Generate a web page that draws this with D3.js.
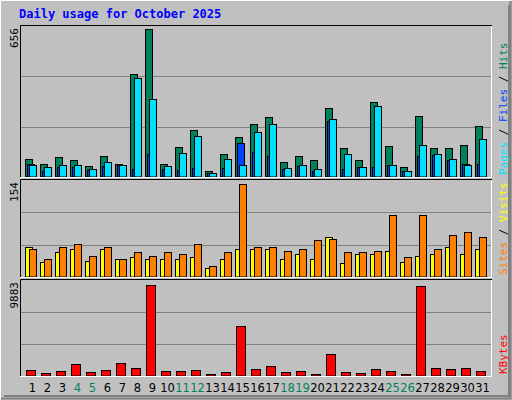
<!DOCTYPE html>
<html><head><meta charset="utf-8">
<script src="https://cdn.jsdelivr.net/npm/d3@7"></script>
<style>body{margin:0;background:#fff}</style></head>
<body><svg id="c" width="512" height="400"></svg>
<script>
const days = d3.range(1, 32);
const weekend = [4,5,11,12,18,19,25,26];
const hits  = [80,58,86,73,47,90,58,448,645,58,130,203,28,102,172,229,260,67,93,76,299,128,76,325,133,45,264,128,124,137,220];
const files = [58,25,42,42,29,47,50,34,99,34,29,38,16,38,146,108,90,34,47,25,243,34,42,42,51,25,90,95,73,58,55];
const pages = [54,42,54,54,34,63,50,430,338,47,106,176,19,80,50,194,229,38,54,34,251,102,42,308,54,28,137,98,80,54,165];
const sites  = [48,24,39,44,26,44,29,32,28,29,28,32,15,28,45,44,44,29,37,28,64,23,37,37,42,24,34,36,47,36,45];
const visits = [45,28,48,52,34,48,29,39,34,39,37,53,18,39,148,48,48,42,44,58,61,39,39,42,98,32,98,45,67,72,63];
const kbytes = [652,343,549,1269,446,652,1372,858,9398,549,549,652,240,446,5179,755,1063,446,549,240,2298,446,343,755,549,240,9295,858,755,858,549];
const maxLabels = ["656","154","9883"];
const maxVals = [656,154,9883];

const svg = d3.select("#c");
svg.append("rect").attr("width",512).attr("height",400).attr("fill","#C0C0C0");
svg.append("path").attr("d","M0.5,399.5V0.5H511.5").attr("stroke","#fff").attr("fill","none");
svg.append("path").attr("d","M1,398.5H510.5V1").attr("stroke","#808080").attr("stroke-width",2).attr("fill","none");
svg.append("path").attr("d","M4,396H509V5").attr("stroke","#808080").attr("stroke-width",2).attr("fill","none");
svg.append("text").attr("x",19).attr("y",18).text("Daily usage for October 2025")
  .attr("font-family","DejaVu Sans Mono").attr("font-weight","bold").attr("font-size",12).attr("fill","#0000FF");

const x = d3.scaleBand().domain(days).range([25,490]).paddingInner(0).paddingOuter(0);
const mono = "DejaVu Sans Mono";
const panels = [
 {top:26,bot:177,max:maxVals[0],series:[[hits,"#00805C",0],[files,"#0040FF",2],[pages,"#00E0FF",4]],w:8,
  legend:[["Pages","#00E0FF"],[" / ","#000"],["Files","#0040FF"],[" / ","#000"],["Hits","#00805C"]]},
 {top:180,bot:277,max:maxVals[1],series:[[sites,"#FFFF00",0],[visits,"#FF8000",4]],w:8,
  legend:[["Sites","#FF8000"],[" / ","#000"],["Visits","#FFFF00"]]},
 {top:280,bot:376,max:maxVals[2],series:[[kbytes,"#FF0000",1]],w:10,
  legend:[["KBytes","#FF0000"]]}
];
panels.forEach((p,i)=>{
  const y = d3.scaleLinear().domain([0,p.max]).range([p.bot,p.top]);
  const g = svg.append("g");
  g.append("rect").attr("x",20).attr("y",p.top).attr("width",472).attr("height",p.bot-p.top).attr("fill","#C0C0C0");
  [1/3,2/3].forEach(f=>g.append("line").attr("x1",20).attr("x2",492)
    .attr("y1",Math.round(y(p.max*f))+0.5).attr("y2",Math.round(y(p.max*f))+0.5).attr("stroke","#808080"));
  p.series.forEach(([vals,col,off])=>{
    g.selectAll(null).data(days).enter().append("rect")
      .attr("x",d=>x(d)+off+0.5).attr("y",d=>Math.round(y(vals[d-1]))+0.5)
      .attr("width",p.w-1).attr("height",d=>p.bot-Math.round(y(vals[d-1]))-0.5)
      .attr("fill",col).attr("stroke","#000");
  });
  g.append("path").attr("d",`M20.5,${p.bot}V${p.top-0.5}H492`).attr("stroke","#000").attr("fill","none");
  g.append("path").attr("d",`M20,${p.bot+0.5}H491.5V${p.top}`).attr("stroke","#fff").attr("fill","none");
  g.append("text").attr("transform",`translate(18,${p.top+2}) rotate(-90)`).attr("text-anchor","end")
    .attr("font-family",mono).attr("font-size",11).attr("fill","#000").text(maxLabels[i]);
  const t = g.append("text").attr("transform",`translate(507,${p.bot-2}) rotate(-90)`)
    .attr("font-family",mono).attr("font-size",11);
  p.legend.forEach(([s,c])=>t.append("tspan").attr("fill",c).attr("xml:space","preserve").text(s));
});
svg.selectAll(".dl").data(days).enter().append("text")
  .attr("x",d=>x(d)+7.5).attr("y",392).attr("text-anchor","middle")
  .attr("font-family","DejaVu Sans").attr("font-size",11.5)
  .attr("fill",d=>weekend.includes(d)?"#00805C":"#000").text(d=>d);
</script></body></html>
